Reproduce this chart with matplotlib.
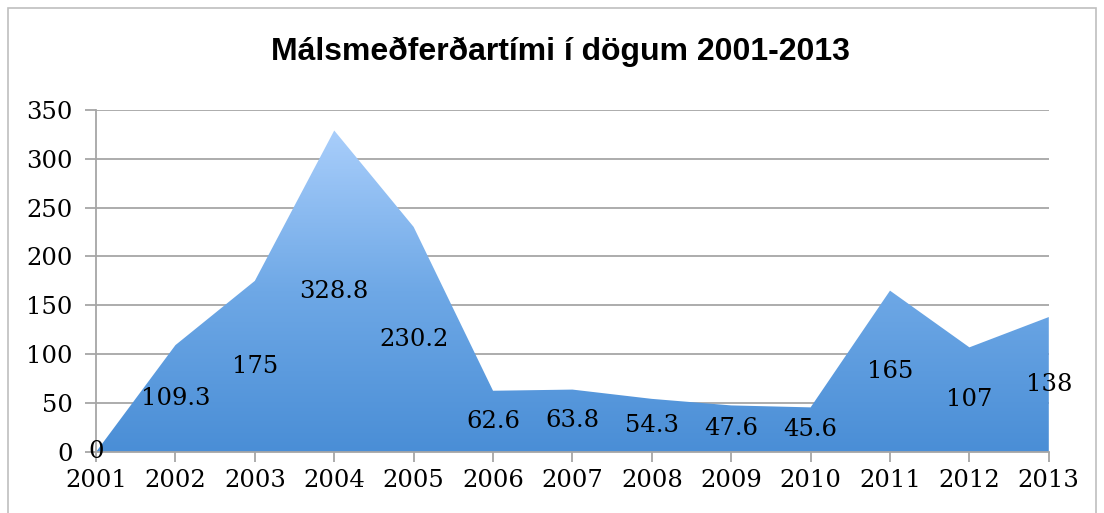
import numpy as np
import matplotlib.pyplot as plt
from matplotlib.patches import Polygon, Rectangle
from matplotlib.colors import LinearSegmentedColormap

# Gögn
years = ['2001', '2002', '2003', '2004', '2005', '2006', '2007',
         '2008', '2009', '2010', '2011', '2012', '2013']
days = [0, 109.3, 175, 328.8, 230.2, 62.6, 63.8, 54.3, 47.6, 45.6, 165, 107, 138]
labels = ['0', '109.3', '175', '328.8', '230.2', '62.6', '63.8',
          '54.3', '47.6', '45.6', '165', '107', '138']

GRID = '#a6a6a6'
SERIF = 'DejaVu Serif'
FS = 17.5

fig = plt.figure(figsize=(11.04, 5.13), dpi=100)
ax = fig.add_axes([0.087, 0.119, 0.863, 0.667])

x = np.arange(len(years))
y = np.array(days)

# halli í fyllingu
cmap = LinearSegmentedColormap.from_list('blar', ['#4a8ed6', '#6ea8e6', '#a9cefb'])
grad = np.linspace(0, 1, 256).reshape(-1, 1)
verts = [(x[0], 0)] + list(zip(x, y)) + [(x[-1], 0)]
poly = Polygon(verts, closed=True, facecolor='none', edgecolor='none')
ax.add_patch(poly)
im = ax.imshow(grad, cmap=cmap, aspect='auto', origin='lower',
               extent=[x[0], x[-1], 0, y.max()], zorder=2)
im.set_clip_path(poly)

for xi, yi, lab in zip(x, y, labels):
    ax.text(xi, yi / 2, lab, ha='center', va='center', fontsize=FS,
            family=SERIF, color='black', zorder=4)

ax.set_xlim(x[0], x[-1])
ax.set_ylim(0, 350)
ax.set_yticks(range(0, 351, 50))
ax.set_xticks(x)
ax.set_xticklabels(years)
ax.grid(axis='y', color=GRID, linewidth=1.3, zorder=0)
ax.set_axisbelow(True)
for s in ['top', 'right']:
    ax.spines[s].set_visible(False)
for s in ['left', 'bottom']:
    ax.spines[s].set_color(GRID)
    ax.spines[s].set_linewidth(1.3)
    ax.spines[s].set_zorder(3)
ax.tick_params(axis='y', length=8, color=GRID, width=1.3, pad=9)
ax.tick_params(axis='x', length=7, color=GRID, width=1.3, pad=5)
for t in ax.get_xticklabels() + ax.get_yticklabels():
    t.set_family(SERIF)
    t.set_fontsize(FS)

fig.text(0.508, 0.898, 'Málsmeðferðartími í dögum 2001-2013', ha='center',
         va='center', fontsize=23, fontweight='bold', family='Liberation Sans')

# rammi utan um myndina
fig.patches.append(Rectangle((8 / 1104, -0.05), 1088 / 1104, 1.035,
                             transform=fig.transFigure, fill=False,
                             edgecolor='#bfbfbf', linewidth=1.2))

fig.savefig('out.png', dpi=100)
